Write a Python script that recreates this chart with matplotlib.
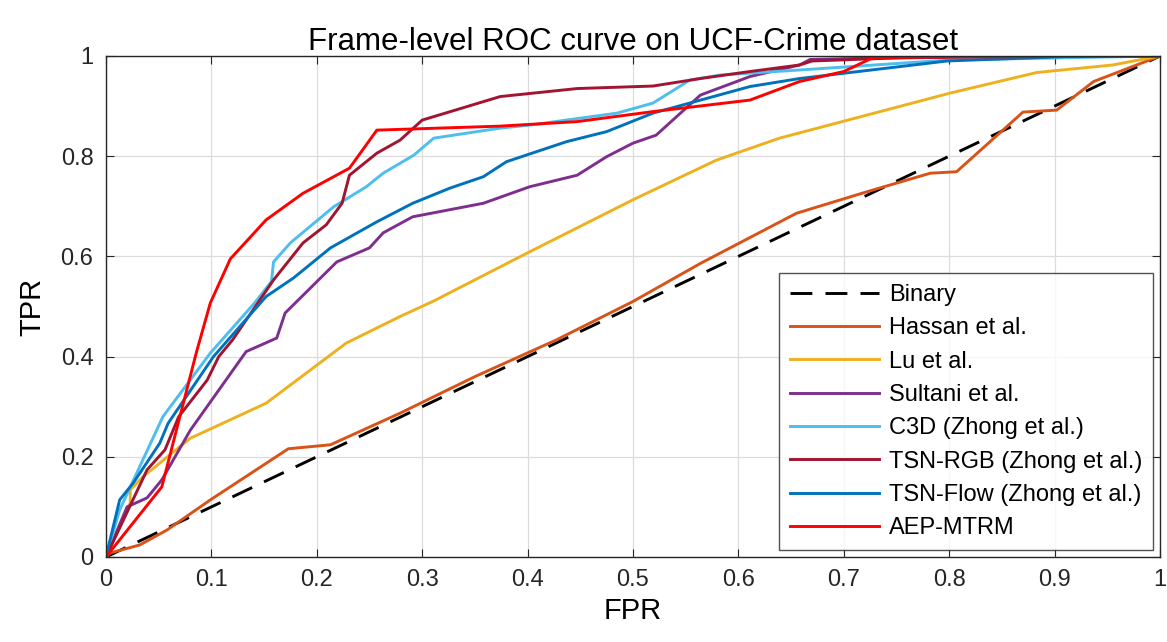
import matplotlib
matplotlib.use('Agg')
import matplotlib.pyplot as plt

# ROC curves (FPR, TPR)
binary_fpr = [0, 1]
binary_tpr = [0, 1]

hassan_fpr = [0, 0.004, 0.032, 0.058, 0.099, 0.173, 0.213, 0.279, 0.35, 0.427, 0.5, 0.564, 0.655, 0.722, 0.782, 0.807, 0.87, 0.902, 0.937, 1]
hassan_tpr = [0, 0.008, 0.024, 0.054, 0.114, 0.216, 0.224, 0.287, 0.36, 0.433, 0.51, 0.586, 0.686, 0.729, 0.766, 0.769, 0.888, 0.892, 0.949, 1]

lu_fpr = [0, 0.023, 0.023, 0.035, 0.08, 0.152, 0.228, 0.279, 0.31, 0.399, 0.5, 0.579, 0.639, 0.801, 0.883, 0.955, 1]
lu_tpr = [0, 0.108, 0.134, 0.16, 0.237, 0.307, 0.427, 0.48, 0.51, 0.606, 0.713, 0.792, 0.836, 0.926, 0.967, 0.982, 1]

sultani_fpr = [0, 0.02, 0.039, 0.053, 0.08, 0.133, 0.162, 0.17, 0.219, 0.25, 0.263, 0.291, 0.358, 0.402, 0.447, 0.475, 0.5, 0.522, 0.564, 0.611, 0.658, 0.668, 0.73, 1]
sultani_tpr = [0, 0.10, 0.118, 0.154, 0.253, 0.41, 0.437, 0.487, 0.589, 0.617, 0.647, 0.679, 0.706, 0.739, 0.762, 0.799, 0.826, 0.842, 0.922, 0.959, 0.982, 0.993, 0.996, 1]

c3d_fpr = [0, 0.013, 0.054, 0.099, 0.141, 0.157, 0.159, 0.175, 0.216, 0.247, 0.263, 0.292, 0.311, 0.374, 0.402, 0.485, 0.519, 0.554, 0.583, 0.658, 0.8, 1]
c3d_tpr = [0, 0.094, 0.28, 0.407, 0.507, 0.55, 0.589, 0.627, 0.699, 0.739, 0.766, 0.802, 0.836, 0.856, 0.862, 0.886, 0.906, 0.952, 0.962, 0.972, 0.992, 1]

rgb_fpr = [0, 0.039, 0.056, 0.069, 0.096, 0.107, 0.12, 0.159, 0.187, 0.209, 0.224, 0.231, 0.257, 0.279, 0.30, 0.374, 0.447, 0.519, 0.564, 0.611, 0.658, 0.67, 0.8, 1]
rgb_tpr = [0, 0.174, 0.214, 0.28, 0.353, 0.40, 0.433, 0.553, 0.627, 0.663, 0.706, 0.762, 0.806, 0.832, 0.872, 0.919, 0.935, 0.94, 0.955, 0.969, 0.982, 0.99, 1, 1]

flow_fpr = [0, 0.013, 0.026, 0.051, 0.059, 0.102, 0.152, 0.178, 0.213, 0.257, 0.291, 0.326, 0.358, 0.38, 0.437, 0.475, 0.519, 0.611, 0.658, 0.798, 0.924, 1]
flow_tpr = [0, 0.114, 0.148, 0.227, 0.267, 0.40, 0.52, 0.557, 0.617, 0.669, 0.706, 0.736, 0.759, 0.789, 0.829, 0.849, 0.886, 0.939, 0.955, 0.99, 1.0, 1]

aep_fpr = [0, 0.053, 0.086, 0.099, 0.118, 0.152, 0.187, 0.231, 0.257, 0.374, 0.447, 0.519, 0.611, 0.658, 0.70, 0.728, 1]
aep_tpr = [0, 0.14, 0.41, 0.507, 0.595, 0.673, 0.726, 0.776, 0.852, 0.86, 0.869, 0.889, 0.912, 0.949, 0.969, 0.997, 1]

plt.rcParams['font.family'] = ['Liberation Sans', 'DejaVu Sans']

fig = plt.figure(figsize=(11.67, 6.42), dpi=100)
ax = fig.add_axes([0.0908, 0.1324, 0.9032, 0.7804])

lw = 2.1
ax.plot(binary_fpr, binary_tpr, color='black', lw=lw, ls=(0, (7.5, 4.5)), label='Binary')
ax.plot(hassan_fpr, hassan_tpr, color=(0.85, 0.325, 0.098), lw=lw, label='Hassan et al.')
ax.plot(lu_fpr, lu_tpr, color=(0.929, 0.694, 0.125), lw=lw, label='Lu et al.')
ax.plot(sultani_fpr, sultani_tpr, color=(0.494, 0.184, 0.556), lw=lw, label='Sultani et al.')
ax.plot(c3d_fpr, c3d_tpr, color=(0.301, 0.745, 0.933), lw=lw, label='C3D (Zhong et al.)')
ax.plot(rgb_fpr, rgb_tpr, color=(0.635, 0.078, 0.184), lw=lw, label='TSN-RGB (Zhong et al.)')
ax.plot(flow_fpr, flow_tpr, color=(0, 0.447, 0.741), lw=lw, label='TSN-Flow (Zhong et al.)')
ax.plot(aep_fpr, aep_tpr, color='red', lw=lw, label='AEP-MTRM')

ax.set_xlim(0, 1)
ax.set_ylim(0, 1)
ax.set_xticks([i / 10 for i in range(11)])
ax.set_xticklabels(['0', '0.1', '0.2', '0.3', '0.4', '0.5', '0.6', '0.7', '0.8', '0.9', '1'])
ax.set_yticks([0, 0.2, 0.4, 0.6, 0.8, 1])
ax.set_yticklabels(['0', '0.2', '0.4', '0.6', '0.8', '1'])
ax.grid(True, color='#dcdcdc', lw=0.9)
ax.tick_params(direction='in', top=True, right=True, length=6, labelsize=17, colors='#262626', pad=9)
for s in ax.spines.values():
    s.set_color('#262626')
    s.set_linewidth(1.0)

ax.set_xlabel('FPR', fontsize=21, labelpad=4)
ax.set_ylabel('TPR', fontsize=21, labelpad=10)
ax.set_title('Frame-level ROC curve on UCF-Crime dataset', fontsize=22.5, pad=4)

leg = ax.legend(loc='lower right', fontsize=17, frameon=True, fancybox=False,
                edgecolor='#262626', handlelength=3.8, handletextpad=0.4,
                borderpad=0.45, borderaxespad=0.3,
                labelspacing=0.48, bbox_to_anchor=(1.0, 0.0))
leg.get_frame().set_linewidth(1.0)

fig.savefig('out.png', dpi=100)
